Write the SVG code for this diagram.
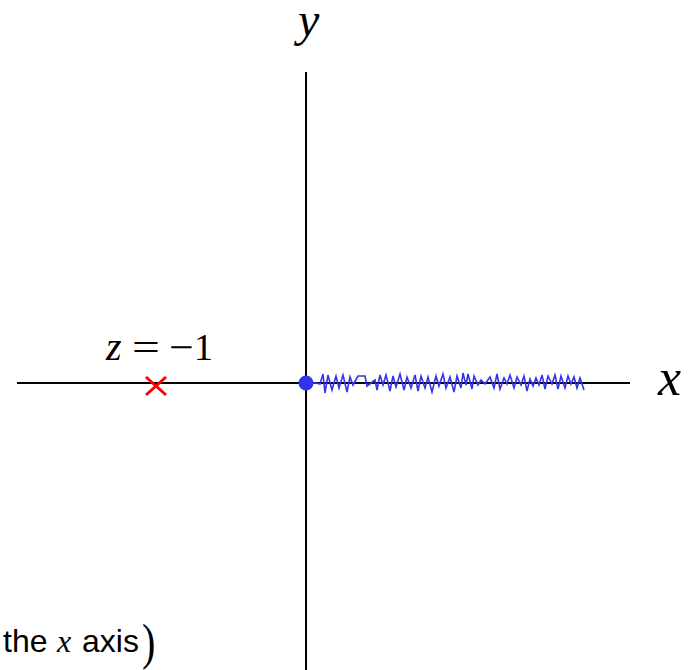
<svg xmlns="http://www.w3.org/2000/svg" width="691" height="670" viewBox="0 0 691 670">
<style>
.ax{stroke:#000;stroke-width:2;fill:none}
.m{font-family:"Liberation Serif","Times New Roman",serif;font-style:italic;fill:#000}
.r{font-family:"Liberation Serif","Times New Roman",serif;fill:#000}
.s{font-family:"Liberation Sans",Arial,sans-serif;fill:#000}
</style>
<rect width="691" height="670" fill="#fff"/>
<g id="axes">
<line class="ax" x1="17" y1="383" x2="630" y2="383"/>
<line class="ax" x1="306" y1="72" x2="306" y2="670"/>
</g>
<g id="branch-cut">
<polyline fill="none" stroke="#3333ee" stroke-width="1.6" stroke-linejoin="miter" points="306,383 316,383 320,384 323,374 325,393 328,375 332,390 336,376 339,388 343,375 347,392 350,377 353,385 358,376 365,376 367,386 375,380 377,390 380,375 383,385 386,375 390,391 393,376 396,387 400,374 404,390 407,377 411,388 415,375 418,391 421,376 425,388 428,377 432,392 436,376 439,386 443,374 446,388 450,377 454,392 457,376 461,388 463,373 466,385 468,374 472,389 474,376 478,385 481,380 485,384 490,377 494,388 497,374 500,389 504,378 507,384 510,375 514,388 517,377 521,385 524,376 527,391 530,379 533,386 536,378 539,385 542,375 545,389 548,376 552,384 555,375 558,389 561,376 565,388 568,376 571,384 574,377 577,388 580,378 584,390"/>
<circle cx="306" cy="383" r="7.5" fill="#3333ee"/>
</g>
<g id="pole">
<path d="M146,377 L166,395 M166,377 L146,395" stroke="#ff0000" stroke-width="3" fill="none"/>
<text class="m" x="106" y="360" font-size="40">z</text>
<text class="r" x="132" y="360" font-size="38" transform="translate(132 0) scale(1.3 1) translate(-132 0)">=</text>
<text class="r" x="169" y="360" font-size="38" transform="translate(169 0) scale(1.15 1) translate(-169 0)">−</text>
<text class="r" x="194" y="360" font-size="38">1</text>
</g>
<g id="labels">
<text class="m" x="298" y="36" font-size="48">y</text>
<text class="m" x="658" y="395" font-size="52">x</text>
<text class="s" x="3" y="652" font-size="32">the</text>
<text class="m" x="57" y="652" font-size="32">x</text>
<text class="s" x="82" y="652" font-size="32">axis</text>
<text class="r" x="142" y="659" font-size="50" transform="translate(142 0) scale(0.8 1) translate(-142 0)">)</text>
</g>
</svg>
